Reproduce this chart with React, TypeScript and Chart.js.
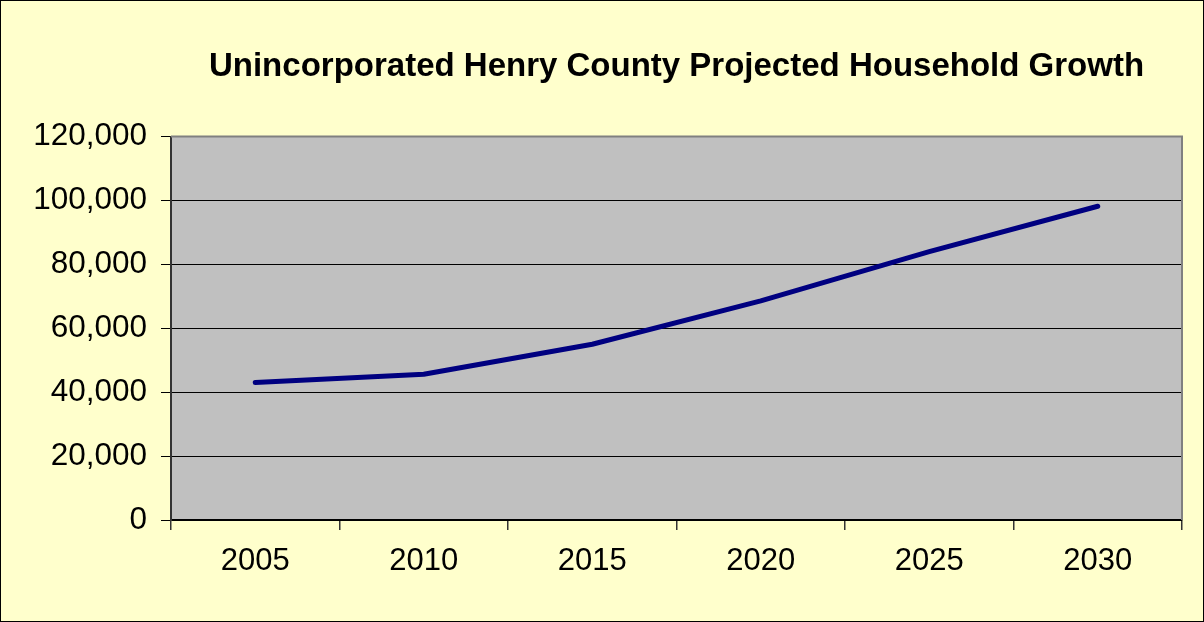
import React, { useEffect, useRef } from "react";
import { Chart, registerables } from "chart.js";

Chart.register(...registerables);

const years = ["2005", "2010", "2015", "2020", "2025", "2030"];
const households = [43000, 45600, 55000, 68600, 84000, 98200];
const titleText = "Unincorporated Henry County Projected Household Growth";
const yMin = 0;
const yMax = 120000;
const yStep = 20000;

const FONT = "'Liberation Sans', Arial, sans-serif";

const frame = {
  id: "frame",
  beforeDraw(chart: any) {
    const { ctx, width, height, chartArea } = chart;
    ctx.save();
    ctx.fillStyle = "#FFFFCC";
    ctx.fillRect(0, 0, width, height);
    ctx.fillStyle = "#C0C0C0";
    ctx.fillRect(chartArea.left, chartArea.top, chartArea.right - chartArea.left, chartArea.bottom - chartArea.top);
    ctx.restore();
  },
  afterDatasetsDraw(chart: any) {
    const { ctx, width, height, chartArea } = chart;
    ctx.save();
    ctx.strokeStyle = "#808080";
    ctx.lineWidth = 2;
    ctx.beginPath();
    ctx.moveTo(chartArea.left, chartArea.top);
    ctx.lineTo(chartArea.right, chartArea.top);
    ctx.lineTo(chartArea.right, chartArea.bottom);
    ctx.stroke();
    ctx.strokeStyle = "#000000";
    ctx.lineWidth = 1;
    ctx.strokeRect(0.5, 0.5, width - 1, height - 1);
    ctx.restore();
  },
};

export default function App() {
  const ref = useRef<HTMLCanvasElement>(null);
  useEffect(() => {
    document.body.style.margin = "0";
    const chart = new Chart(ref.current as HTMLCanvasElement, {
      type: "line",
      data: {
        labels: years,
        datasets: [
          {
            data: households,
            borderColor: "#000080",
            borderWidth: 5,
            pointRadius: 0,
            tension: 0,
            borderCapStyle: "round",
            borderJoinStyle: "round",
          },
        ],
      },
      options: {
        animation: false,
        responsive: false,
        layout: { padding: { left: 0, right: 22, top: 0, bottom: 0 } },
        plugins: {
          legend: { display: false },
          tooltip: { enabled: false },
          title: {
            display: true,
            text: titleText,
            fullSize: false,
            color: "#000000",
            font: { family: FONT, size: 33, weight: "bold", lineHeight: 1.2 },
            padding: { top: 47, bottom: 50 },
          },
        },
        scales: {
          x: {
            type: "category",
            offset: true,
            grid: {
              offset: true,
              drawOnChartArea: false,
              drawTicks: true,
              tickLength: 10,
              color: "#333333",
              lineWidth: 1.5,
            },
            border: { color: "#000000", width: 2 },
            ticks: {
              color: "#000000",
              font: { family: FONT, size: 31 },
              padding: 13,
              maxRotation: 0,
            },
            afterFit(scale: any) {
              scale.height = 102;
            },
          },
          y: {
            min: yMin,
            max: yMax,
            grid: {
              color: "#000000",
              lineWidth: 1,
              tickLength: 10,
            },
            border: { color: "#333333", width: 2 },
            ticks: {
              stepSize: yStep,
              color: "#000000",
              font: { family: FONT, size: 31.5 },
              padding: 14,
              callback: (v: any) => Number(v).toLocaleString("en-US"),
            },
            afterFit(scale: any) {
              scale.width = 171;
            },
          },
        },
      },
      plugins: [frame],
    });
    return () => chart.destroy();
  }, []);
  return <canvas ref={ref} width={1204} height={622} style={{ display: "block" }} />;
}
